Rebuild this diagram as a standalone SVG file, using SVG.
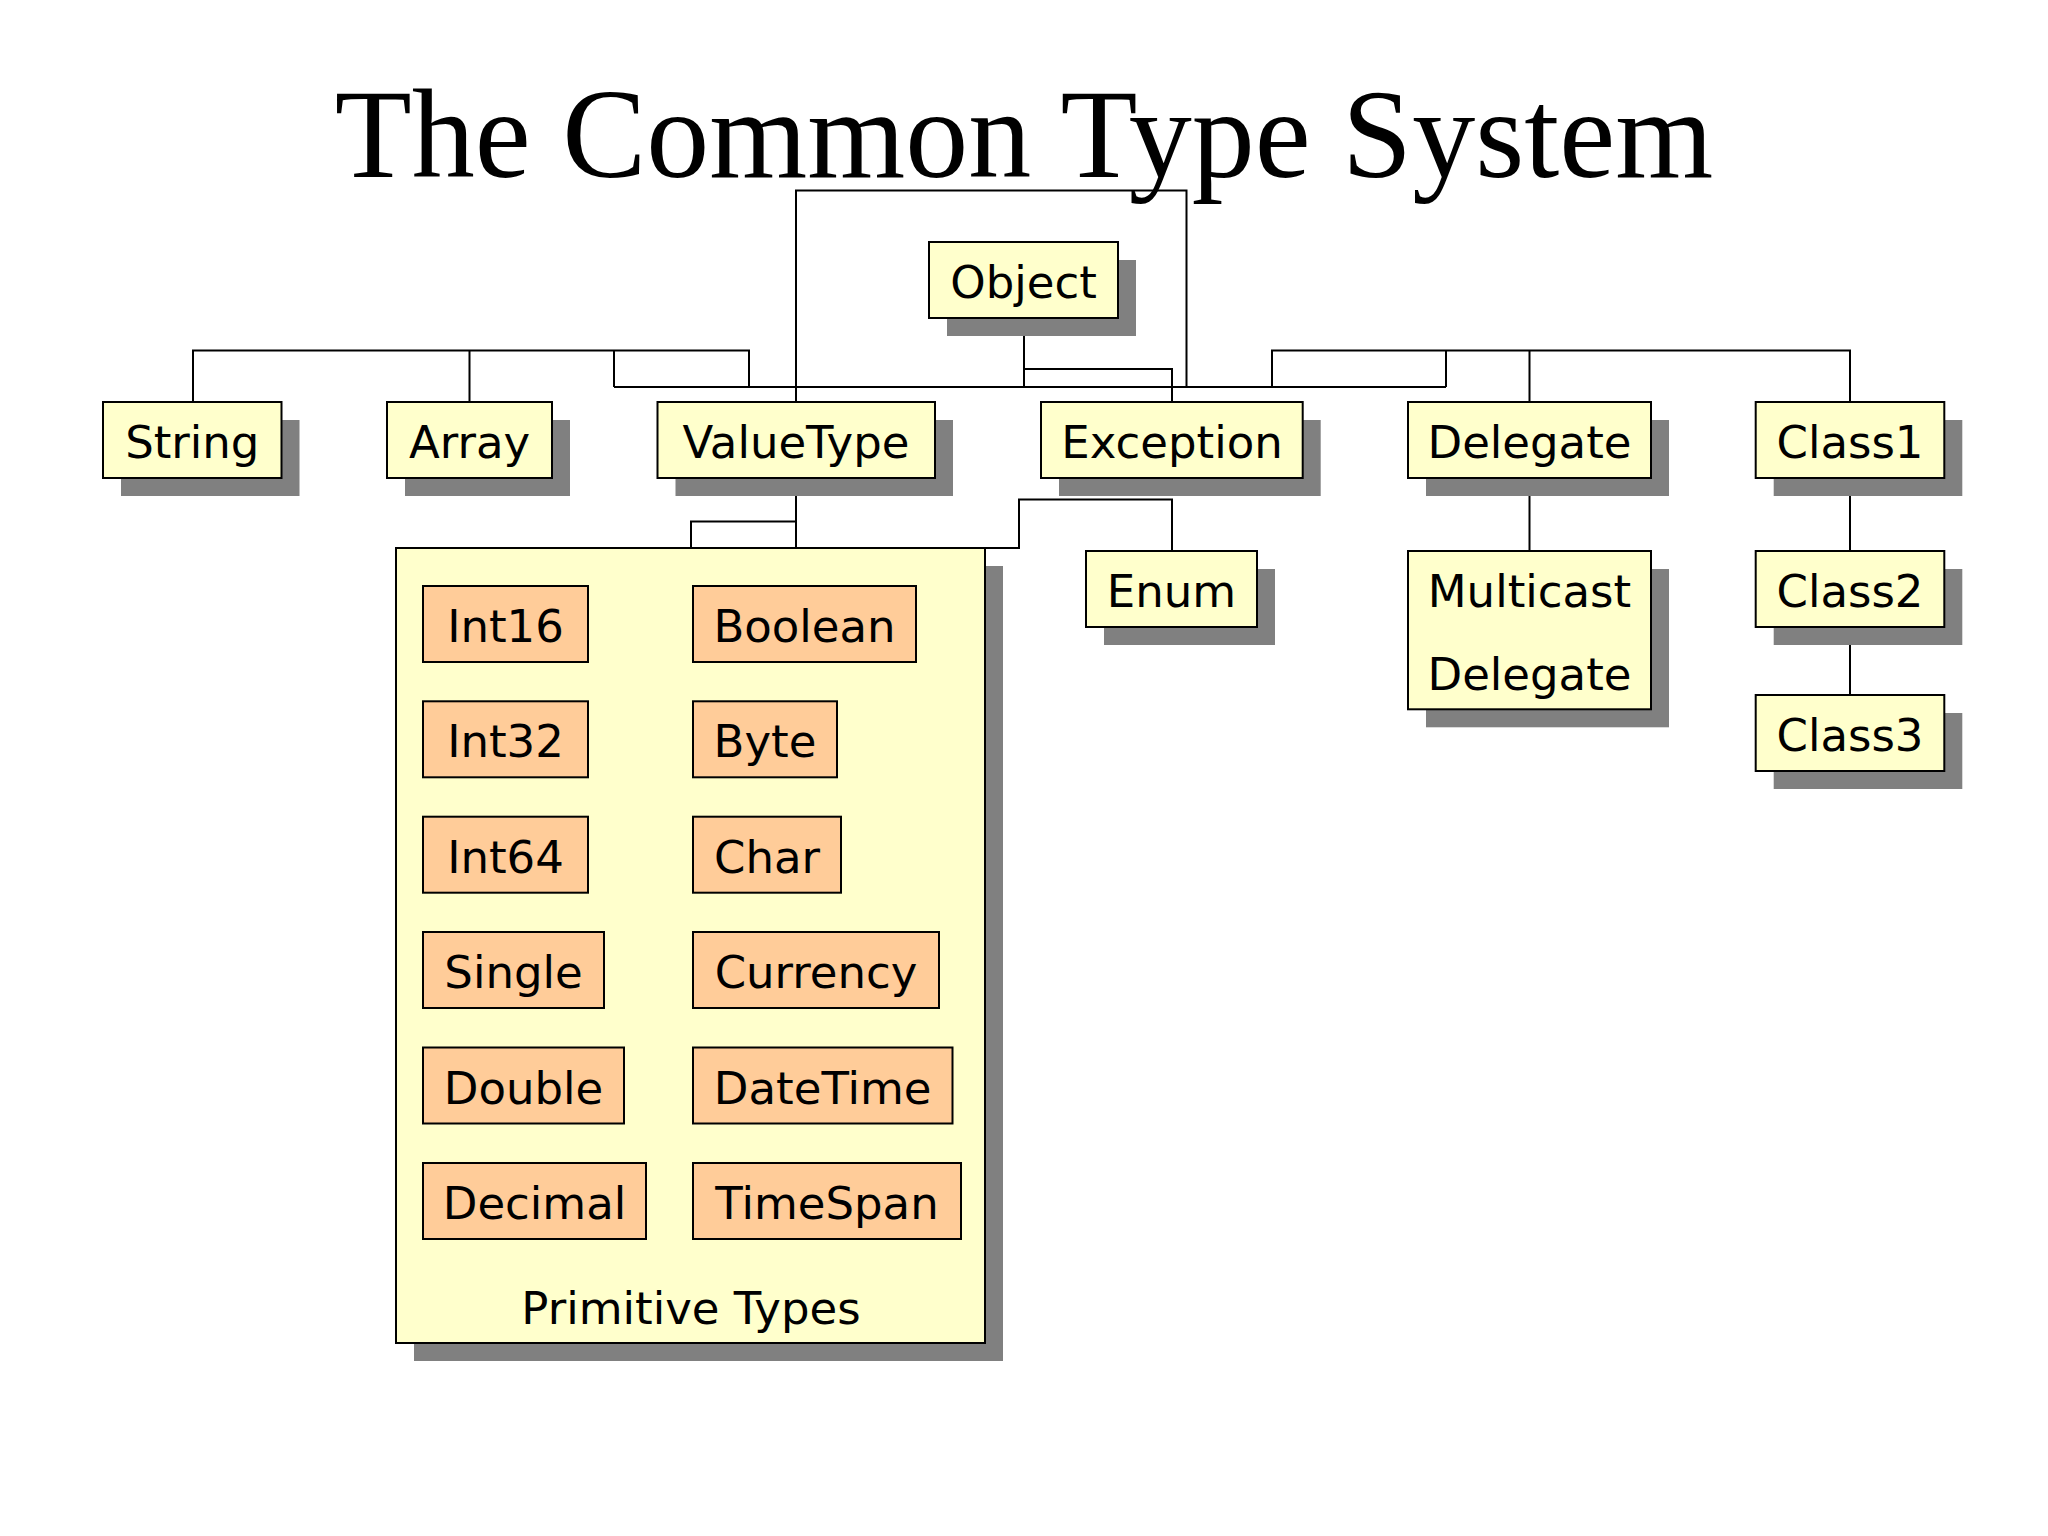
<svg xmlns="http://www.w3.org/2000/svg" width="2048" height="1536" viewBox="0 0 2048 1536">
<style>
.bg{fill:#ffffff}
.sh{fill:#808080}
.nd{fill:#ffffcc;stroke:#000;stroke-width:2}
.pr{fill:#ffcc99;stroke:#000;stroke-width:2}
.t{font-family:"DejaVu Sans",Verdana,sans-serif;font-size:45px;fill:#000;text-anchor:middle}
.title{font-family:"Liberation Serif","Times New Roman",serif;font-size:126px;fill:#000;text-anchor:middle}
.cn{fill:none;stroke:#000;stroke-width:2}
</style>
<rect class="bg" x="0" y="0" width="2048" height="1536"/>
<text class="title" x="1024" y="177">The Common Type System</text>

<g id="connectors">
<path class="cn" d="M614,387 H1446"/>
<path class="cn" d="M193,402 V350.5 H749 V387 M469.5,350.5 V402 M614,350.5 V387"/>
<path class="cn" d="M1272,387 V350.5 H1850 V402 M1446,350.5 V387 M1529.5,350.5 V402"/>
<path class="cn" d="M1024,318 V387"/>
<path class="cn" d="M1024,369 H1172 V402"/>
<path class="cn" d="M796,402 V190.5 H1186.5 V387"/>
<path class="cn" d="M796,479 V548"/>
<path class="cn" d="M691,548 V521.5 H796"/>
<path class="cn" d="M796,548 H1019 V499.5 H1172 V551"/>
<path class="cn" d="M1529.5,478 V551"/>
<path class="cn" d="M1850,478 V551 M1850,627 V695"/>
</g>

<g id="object"><rect class="sh" x="947" y="260" width="189" height="76"/><rect class="nd" x="929" y="242" width="189" height="76"/><text class="t" x="1023.5" y="298">Object</text></g>
<g id="string"><rect class="sh" x="121" y="420" width="178.5" height="76"/><rect class="nd" x="103" y="402" width="178.5" height="76"/><text class="t" x="192.3" y="458">String</text></g>
<g id="array"><rect class="sh" x="405" y="420" width="165" height="76"/><rect class="nd" x="387" y="402" width="165" height="76"/><text class="t" x="469.5" y="458">Array</text></g>
<g id="valuetype"><rect class="sh" x="675.5" y="420" width="277.5" height="76"/><rect class="nd" x="657.5" y="402" width="277.5" height="76"/><text class="t" x="796" y="458">ValueType</text></g>
<g id="exception"><rect class="sh" x="1059" y="420" width="261.7" height="76"/><rect class="nd" x="1041" y="402" width="261.7" height="76"/><text class="t" x="1172" y="458">Exception</text></g>
<g id="delegate"><rect class="sh" x="1426" y="420" width="243" height="76"/><rect class="nd" x="1408" y="402" width="243" height="76"/><text class="t" x="1529.5" y="458">Delegate</text></g>
<g id="class1"><rect class="sh" x="1773.7" y="420" width="188.6" height="76"/><rect class="nd" x="1755.7" y="402" width="188.6" height="76"/><text class="t" x="1850" y="458">Class1</text></g>

<g id="primitive-types">
<rect class="sh" x="414" y="566" width="589" height="795"/>
<rect class="nd" x="396" y="548" width="589" height="795"/>
<text class="t" x="691" y="1324">Primitive Types</text>
</g>
<g id="int16"><rect class="pr" x="423" y="586" width="165" height="76"/><text class="t" x="505.5" y="642">Int16</text></g>
<g id="int32"><rect class="pr" x="423" y="701.3" width="165" height="76"/><text class="t" x="505.5" y="757.3">Int32</text></g>
<g id="int64"><rect class="pr" x="423" y="816.7" width="165" height="76"/><text class="t" x="505.5" y="872.7">Int64</text></g>
<g id="single"><rect class="pr" x="423" y="932" width="181" height="76"/><text class="t" x="513.5" y="988">Single</text></g>
<g id="double"><rect class="pr" x="423" y="1047.5" width="201" height="76"/><text class="t" x="523.5" y="1103.5">Double</text></g>
<g id="decimal"><rect class="pr" x="423" y="1163" width="223" height="76"/><text class="t" x="534.5" y="1219">Decimal</text></g>
<g id="boolean"><rect class="pr" x="693" y="586" width="223" height="76"/><text class="t" x="804.5" y="642">Boolean</text></g>
<g id="byte"><rect class="pr" x="693" y="701.3" width="144" height="76"/><text class="t" x="765" y="757.3">Byte</text></g>
<g id="char"><rect class="pr" x="693" y="816.7" width="148" height="76"/><text class="t" x="767" y="872.7">Char</text></g>
<g id="currency"><rect class="pr" x="693" y="932" width="246" height="76"/><text class="t" x="816" y="988">Currency</text></g>
<g id="datetime"><rect class="pr" x="693" y="1047.5" width="259.5" height="76"/><text class="t" x="822.7" y="1103.5">DateTime</text></g>
<g id="timespan"><rect class="pr" x="693" y="1163" width="268" height="76"/><text class="t" x="827" y="1219">TimeSpan</text></g>

<g id="enum"><rect class="sh" x="1104" y="569" width="171" height="76"/><rect class="nd" x="1086" y="551" width="171" height="76"/><text class="t" x="1171.5" y="607">Enum</text></g>
<g id="multicast-delegate"><rect class="sh" x="1426" y="569" width="243" height="158.3"/><rect class="nd" x="1408" y="551" width="243" height="158.3"/><text class="t" x="1529.5" y="606.7">Multicast</text><text class="t" x="1529.5" y="690">Delegate</text></g>
<g id="class2"><rect class="sh" x="1773.7" y="569" width="188.6" height="76"/><rect class="nd" x="1755.7" y="551" width="188.6" height="76"/><text class="t" x="1850" y="607">Class2</text></g>
<g id="class3"><rect class="sh" x="1773.7" y="713" width="188.6" height="76"/><rect class="nd" x="1755.7" y="695" width="188.6" height="76"/><text class="t" x="1850" y="751">Class3</text></g>
</svg>
